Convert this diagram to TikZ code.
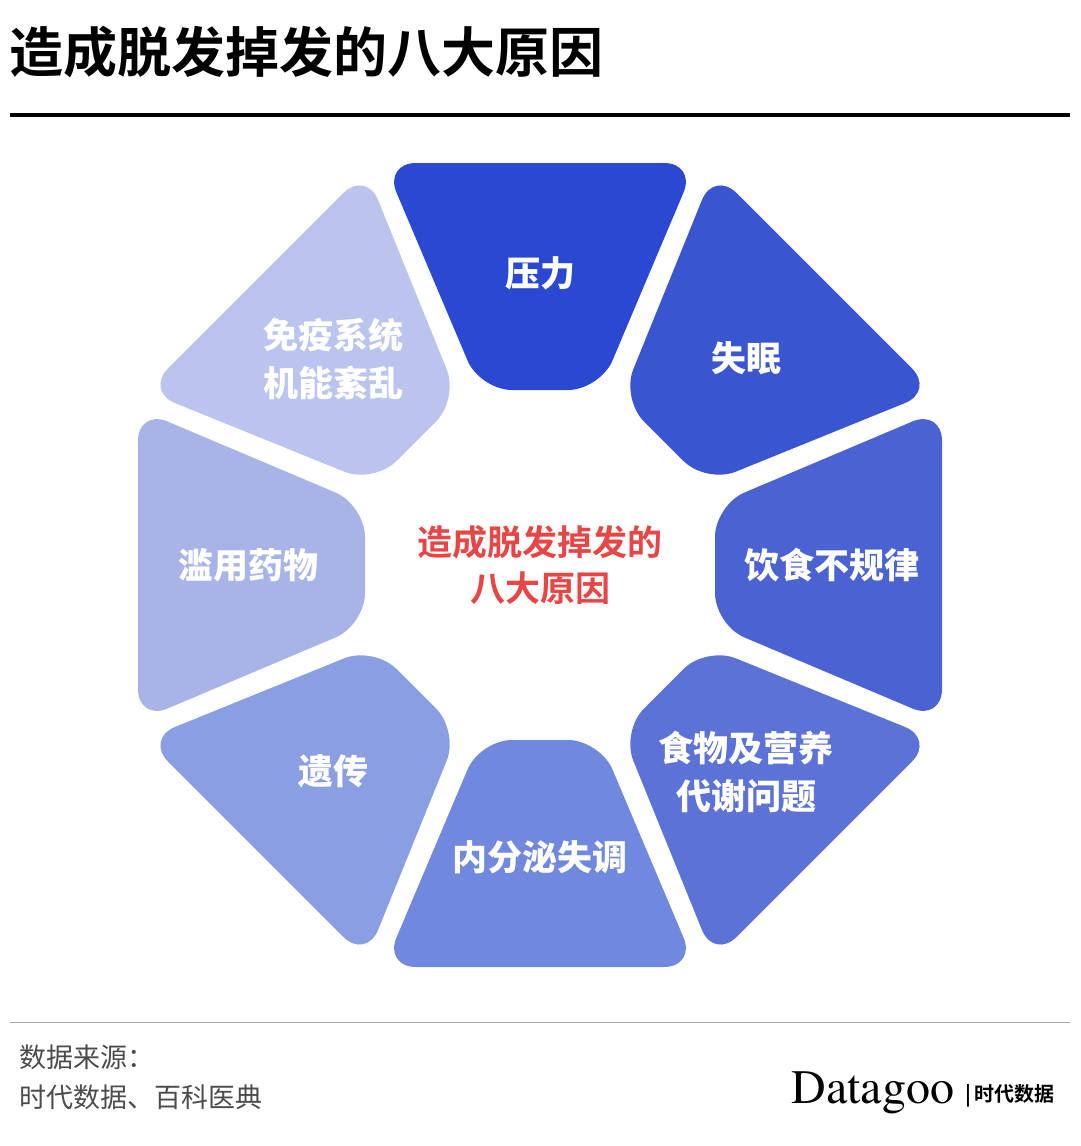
\documentclass[tikz,border=0pt]{standalone}
\usepackage{fontspec}
\setmainfont{Noto Sans CJK SC}
\newfontfamily\cjkb{Noto Sans CJK SC Bold}
\usetikzlibrary{calc}
\definecolor{c0}{HTML}{2A48D2}
\definecolor{c1}{HTML}{3A55D0}
\definecolor{c2}{HTML}{4A62D2}
\definecolor{c3}{HTML}{5C72D6}
\definecolor{c4}{HTML}{7088DD}
\definecolor{c5}{HTML}{8A9EE2}
\definecolor{c6}{HTML}{A8B4E8}
\definecolor{c7}{HTML}{BAC4EE}
\definecolor{redt}{HTML}{E84545}
\tikzset{seg/.style={rounded corners=32pt},
 lab/.style={text=white,font=\fontsize{35}{48}\selectfont\bfseries,align=center}}
\begin{document}
\begin{tikzpicture}[x=1pt,y=1pt]
\useasboundingbox (0,0) rectangle (1080,-1146);
\fill[white] (0,0) rectangle (1080,-1146);
\node[anchor=west,font=\fontsize{54}{60}\selectfont\cjkb] (title) at (6,-52) {造成脱发掉发的八大原因};
\draw[line width=4pt] (10,-115) -- (1070,-115);
\coordinate (o) at (540,-565);
\foreach \i/\txt in {0/压力,1/失眠,2/饮食不规律,3/{食物及营养\\代谢问题},4/内分泌失调,5/遗传,6/滥用药物,7/{免疫系统\\机能紊乱}}{
  \pgfmathsetmacro\a{90-45*\i}
  \begin{scope}[shift={(o)},rotate=\a-90]
    \fill[c\i,seg] (-60,175) -- (-156,402) -- (156,402) -- (60,175) -- cycle;
  \end{scope}
  \node[lab] (l\i) at ($(o)+(\a:292)$) {\txt};
}
\node[text=redt,font=\fontsize{35}{46}\selectfont\cjkb,align=center] (ctr) at (o) {造成脱发掉发的\\八大原因};
\draw[gray!70,line width=0.8pt] (10,-1022) -- (1070,-1022);
\node[anchor=north west,text=black!70,font=\fontsize{27}{40}\selectfont,align=left] (src) at (16,-1041) {数据来源：\\时代数据、百科医典};
\node[anchor=base west,font=\fontsize{48}{54}\selectfont\fontspec{TeX Gyre Termes}] (dg) at (788,-1103) {Datagoo};
\node[anchor=base west,font=\fontsize{20}{24}\selectfont\cjkb] (sd) at (962,-1101) {|\,时代数据};
\end{tikzpicture}
\end{document}
